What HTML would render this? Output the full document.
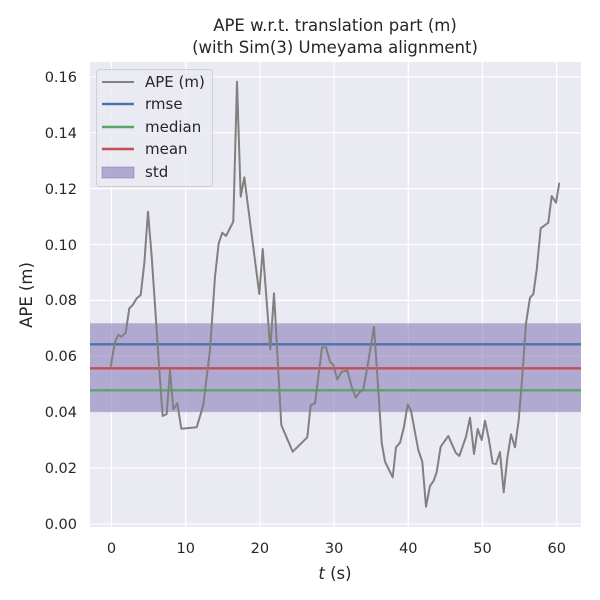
<!DOCTYPE html>
<html><head><meta charset="utf-8"><style>body{margin:0;background:#fff}svg{display:block}text{font-family:"DejaVu Sans","Liberation Sans",sans-serif;fill:#262626}</style></head><body>
<svg width="600" height="600" viewBox="0 0 600 600">
<rect x="90" y="62" width="491" height="465" fill="#eaeaf2"/>
<g stroke="#fff" stroke-width="1.2">
<line x1="111.5" y1="62" x2="111.5" y2="527"/><line x1="185.7" y1="62" x2="185.7" y2="527"/><line x1="259.9" y1="62" x2="259.9" y2="527"/><line x1="334.1" y1="62" x2="334.1" y2="527"/><line x1="408.3" y1="62" x2="408.3" y2="527"/><line x1="482.5" y1="62" x2="482.5" y2="527"/><line x1="556.7" y1="62" x2="556.7" y2="527"/>
<line x1="90" y1="524" x2="581" y2="524"/><line x1="90" y1="468.1" x2="581" y2="468.1"/><line x1="90" y1="412.2" x2="581" y2="412.2"/><line x1="90" y1="356.3" x2="581" y2="356.3"/><line x1="90" y1="300.4" x2="581" y2="300.4"/><line x1="90" y1="244.5" x2="581" y2="244.5"/><line x1="90" y1="188.6" x2="581" y2="188.6"/><line x1="90" y1="132.7" x2="581" y2="132.7"/><line x1="90" y1="76.8" x2="581" y2="76.8"/>
</g>
<rect x="90" y="323.3" width="491" height="89" fill="#8172b3" fill-opacity="0.55"/>
<line x1="90" y1="344.3" x2="581" y2="344.3" stroke="#4c72b0" stroke-width="2.4"/>
<line x1="90" y1="390.3" x2="581" y2="390.3" stroke="#55a868" stroke-width="2.4"/>
<line x1="90" y1="368.3" x2="581" y2="368.3" stroke="#c44e52" stroke-width="2.4"/>
<polyline fill="none" stroke="#808080" stroke-width="2" stroke-linejoin="round" points="110.7,366.7 115,341.7 118.3,335 121.7,336.7 125.7,332.7 129.3,308.3 132.7,305 136.7,298.3 140.7,295 144.3,263.3 148,211.7 151.7,256.7 156,320 159.3,370 162.7,416 166.7,414 170,370 173.3,409.3 177.3,403.3 181.3,428.7 196.7,427.3 203.3,405 210,350 215,276.7 218.7,243.3 222.3,232.7 226,236 233.3,221.7 237,81.7 240.7,196.7 244.3,177.3 259.3,294 262.7,249 270.3,349.3 274,293.3 281.3,425 292.7,451.7 307.3,437.3 310.7,405 315,403.3 322,347.3 326,347.3 330,361.7 333.3,365 337.3,379.3 341.7,371.7 347.3,370.7 351.7,386.7 355.7,397.7 360,391.7 363.3,390 368.3,361.7 374,326.7 378.3,390 381.7,442.7 385,461.7 392.7,477.3 396,447.3 400,442.7 404,426.7 407.7,404.3 411,410.7 418.3,450 422.3,461.7 426,506.7 430,486 433.7,480.7 436.7,472 440.7,446.7 448.3,436 455.7,452.7 459.3,456 466,436.7 470,417.7 474,454 477.7,429 481.7,440 485,420.7 488.7,438.3 492.7,463.3 496,464 500,452 503.7,492.3 507.3,458.3 511,434.3 515,447.3 518.7,420 522,380 526,323.3 530,297.7 533.3,294.3 536.7,270 540.7,228.3 548.3,222.7 551.7,196 556,202.7 559.3,182.7"/>
<g font-size="14.5" text-anchor="end">
<text x="77" y="529">0.00</text><text x="77" y="473">0.02</text><text x="77" y="417">0.04</text><text x="77" y="361">0.06</text><text x="77" y="305">0.08</text><text x="77" y="250">0.10</text><text x="77" y="194">0.12</text><text x="77" y="138">0.14</text><text x="77" y="82">0.16</text>
</g>
<g font-size="14.5" text-anchor="middle">
<text x="111.5" y="553">0</text><text x="185.7" y="553">10</text><text x="259.9" y="553">20</text><text x="334.1" y="553">30</text><text x="408.3" y="553">40</text><text x="482.5" y="553">50</text><text x="556.7" y="553">60</text>
</g>
<text x="335" y="579" font-size="16.5" text-anchor="middle"><tspan font-style="italic">t</tspan> (s)</text>
<text transform="translate(32,295) rotate(-90)" font-size="16.5" text-anchor="middle">APE (m)</text>
<text x="335" y="31" font-size="16.5" text-anchor="middle">APE w.r.t. translation part (m)</text>
<text x="335" y="53" font-size="16.5" text-anchor="middle">(with Sim(3) Umeyama alignment)</text>
<rect x="96.5" y="69.5" width="116" height="117" rx="3" fill="#eaeaf2" fill-opacity="0.8" stroke="#d0d0d8"/>
<line x1="102" y1="82" x2="134" y2="82" stroke="#808080" stroke-width="2"/>
<line x1="102" y1="104" x2="134" y2="104" stroke="#4c72b0" stroke-width="2.4"/>
<line x1="102" y1="127" x2="134" y2="127" stroke="#55a868" stroke-width="2.4"/>
<line x1="102" y1="149" x2="134" y2="149" stroke="#c44e52" stroke-width="2.4"/>
<rect x="102" y="167" width="32" height="11" fill="#8172b3" fill-opacity="0.55" stroke="#8172b3" stroke-opacity="0.5"/>
<g font-size="15"><text x="145" y="87">APE (m)</text><text x="145" y="109">rmse</text><text x="145" y="132">median</text><text x="145" y="154">mean</text><text x="145" y="177">std</text></g>
</svg>
</body></html>
